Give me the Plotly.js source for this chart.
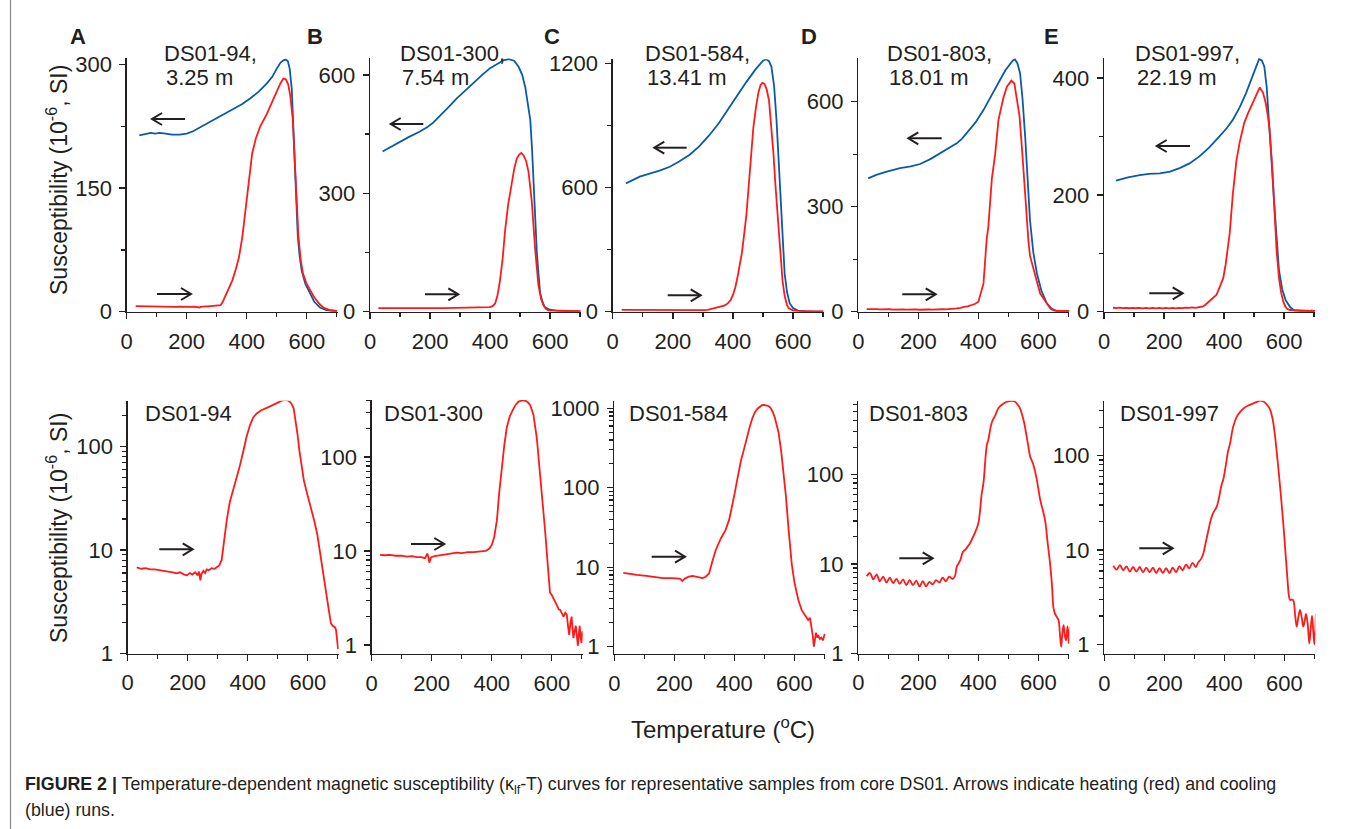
<!DOCTYPE html>
<html><head><meta charset="utf-8">
<script src="https://cdn.plot.ly/plotly-3.0.1.min.js"></script>
<style>html,body{margin:0;padding:0;background:#fff;} #chart{width:1355px;height:829px;}</style>
</head><body><div id="chart"></div>
<script>
// ---------------- DATA ----------------
const sampleNames = ['DS01-94', 'DS01-300', 'DS01-584', 'DS01-803', 'DS01-997'];
const sampleDepths = ['3.25 m', '7.54 m', '13.41 m', '18.01 m', '22.19 m'];
const panelLetters = ['A', 'B', 'C', 'D', 'E'];
const xTickLabels = ['0', '200', '400', '600'];

// DS01-94
const heatT_94 = [30,45,60,75,90,105,120,135,150,163,175,188,197,207,215,225,233,238,242,246,252,258,263,270,280,290,297,305,313,320,330,340,352,364,374,385,396,407,418,430,445,467,485,500,512,522,530,538,545,553,560,566,572,580,587,598,610,622,632,643,655,667,677,683,690,694,698,701];
const heatK_94 = [6.8,6.6,6.7,6.5,6.5,6.4,6.3,6.3,6.1,5.95,6.1,5.8,5.7,6.0,5.8,6.1,5.7,6.2,5.1,5.9,6.3,6.0,6.5,6.4,6.7,6.6,6.9,7.1,8.0,12,19.5,29,38,52,66,90,125,160,192,210,225,240,255,268,277,283,282,276,262,235,180,130,92,62,47,35,26,19,14,9,5.1,3.0,1.95,1.85,1.8,1.7,1.3,1.1];
const coolT_94 = [42,55,66,80,95,110,130,150,177,200,221,250,288,320,355,385,411,440,467,485,500,512,522,530,537,543,550,556,561,566,570,576,583,595,611,625,644,665,688,700];
const coolK_94 = [214,215,216,217,216,217,216,215,215,216,219,225,232,239,246.5,252,258.7,267,277,285,295,302,305,306,304,295,270,215,165,115,92,68,50,34,22,12,5,1.8,0.6,0.4];

// DS01-300
const heatT_300 = [28,45,60,80,100,117,135,150,165,178,185,189,192,198,210,228,245,260,283,300,320,340,361,380,392,400,408,417,425,433,442,450,460,472,480,489,497,504,512,520,528,539,550,561,570,578,586,594,600,607,613,618,623,628,634,639,645,650,654,658,662,666,669,672,676,680,684,687,690,693,696,699,702];
const heatK_300 = [9.1,9.0,9.1,8.9,8.9,8.7,8.8,8.6,8.6,8.4,9.4,8.6,7.5,8.6,8.8,9.0,9.1,9.3,9.6,9.5,9.7,9.7,9.8,10.0,10.6,11.6,14,21,42,78,135,205,270,325,360,388,398,402,396,382,355,280,160,68,32,16,7.5,3.6,3.4,3.0,2.8,2.6,2.4,2.36,2.1,2.0,2.2,2.1,1.6,1.28,1.7,2.0,1.5,1.18,1.4,1.6,1.2,0.98,1.3,1.6,1.2,1.05,1.4];
const coolT_300 = [42,70,99,130,165,190,209,235,264,290,319,345,374,400,429,445,462,480,495,507,517,526,534,540,545,551,556,562,567,575,583,600,625,660,700];
const coolK_300 = [406,418,431,443,456,467,478,497,520,541,562,580,600,617,631,637,640,636,621,600,570,530,486,410,317,230,148,90,47,24,11,5,2,1.2,1];

// DS01-584
const heatT_584 = [30,50,75,107,130,162,190,217,222,227,235,248,261,275,285,294,305,316,327,338,355,371,383,393,401,408,415,422,430,437,445,452,460,468,477,485,492,498,505,512,520,528,535,541,547,556,565,572,580,586,591,600,613,624,635,646,652,657,661,665,669,672,676,679,685,690,695,701];
const heatK_584 = [8.5,8.2,8.0,7.8,7.6,7.3,7.3,7.2,7.0,6.7,7.2,7.6,7.8,7.6,7.5,7.3,7.6,8.4,12,16.5,23,29.5,40,58,85,118,165,220,285,370,470,600,750,890,990,1060,1095,1105,1100,1075,1020,900,760,620,500,290,150,77,32,16,11.2,6.5,3.9,2.9,2.5,2.17,2.3,1.8,1.4,1.0,1.2,1.5,1.3,1.4,1.25,1.3,1.2,1.45];
const coolT_584 = [44,65,90,120,156,190,221,255,287,320,353,385,419,445,474,490,500,510,520,528,537,545,551,556,564,572,580,589,600,616,640,670,700];
const coolK_584 = [620,636,652,666,681,700,725,757,797,850,910,980,1055,1110,1168,1195,1212,1220,1210,1184,1090,926,760,604,390,185,95,40,18,5,2,1,0.5];

// DS01-803
const heatT_803 = [28,39,50,61,72,83,94,105,116,127,138,149,160,171,182,193,204,215,226,237,248,259,270,281,292,303,314,322,328,340,348,356,364,372,388,400,411,417,428,433,445,456,467,483,495,510,520,528,537,545,553,561,567,572,583,595,606,622,631,639,645,650,655,660,667,672,676,680,684,688,692,697,700,702,705];
const heatK_803 = [7.3,7.9,6.7,7.6,6.4,7.2,6.2,7.0,6.1,6.8,6.0,6.7,5.8,6.6,5.8,6.5,5.6,6.4,5.6,6.3,5.9,6.6,6.2,7.0,6.4,7.2,6.8,7.3,9.3,11,13.5,14.3,15.5,17,22,28.4,60,80,210,240,380,450,548,610,643,660,652,614,560,470,370,262,200,160,128,86,52,31,17,10,6,3.3,2.8,2.6,2.36,1.6,1.19,1.7,2.07,1.6,1.4,2.0,1.5,1.3,2.0];
const coolT_803 = [33,60,95,139,175,206,240,272,300,328,345,361,390,417,445,472,490,506,515,522,530,539,547,556,564,572,583,595,610,628,645,661,680,700];
const coolK_803 = [381,391,400,410,415,422,436,452,466,481,494,510,540,576,618,662,690,710,718,721,710,681,610,500,380,262,170,110,60,24,8,2,1,0.5];

// DS01-997
const heatT_997 = [30,41,52,63,74,85,96,107,118,129,140,151,162,173,184,195,206,217,228,239,250,261,272,283,294,305,313,322,330,338,347,355,362,375,390,397,405,412,419,429,441,452,467,480,495,508,519,530,539,546,552,561,568,575,583,590,597,604,610,615,619,625,630,636,641,646,652,658,663,668,672,678,683,688,692,696,700,705];
const heatK_997 = [6.8,6.2,6.9,6.1,6.7,5.9,6.6,5.9,6.6,5.8,6.5,5.8,6.5,5.7,6.4,5.7,6.4,5.7,6.5,5.8,6.7,6.1,7.0,6.4,7.3,6.6,7.4,8.0,9.2,12,16.3,21,24.5,29,48,57,80,110,135,200,258,290,323,340,357,372,384,375,357,335,310,243,170,105,58,33,18,9,5,3.3,2.95,3.0,2.9,2.0,1.54,1.9,2.31,1.9,1.54,1.8,2.1,1.6,1.02,1.5,2.0,1.4,1.0,2.1];
const coolT_997 = [40,80,119,150,186,220,252,285,318,350,384,410,429,452,473,490,506,517,526,534,542,550,558,567,575,583,594,605,620,634,660,700];
const coolK_997 = [224.5,230,234,236,237,240,246,254,266,281,300,315,328.5,350,374,396,420,433,430,420,385,328,260,186,125,71,38,20,8,2,0.8,0.5];

const heatT = [heatT_94, heatT_300, heatT_584, heatT_803, heatT_997];
const heatK = [heatK_94, heatK_300, heatK_584, heatK_803, heatK_997];
const coolT = [coolT_94, coolT_300, coolT_584, coolT_803, coolT_997];
const coolK = [coolK_94, coolK_300, coolK_584, coolK_803, coolK_997];

// ---------------- LAYOUT (pixel geometry) ----------------
const W = 1355, H = 829;
const FONT = '"Liberation Sans", Arial, Helvetica, sans-serif';
const INK = '#231f20';
const RED = '#ff1a1a', BLUE = '#0b5aa6';
const px = x => x / W;
const py = y => 1 - y / H;

// top row boxes [x0, x1, yTop, yBottom], linear y ranges and tick steps
const topBoxes = [[126.7,337.7,58.3,311.7],[370,581,58.3,311.7],[612.7,824,59.3,311.7],[858.3,1069.3,58.3,311.7],[1104,1315,58.3,311.7]];
const topYMax = [307.5, 642, 1219, 724, 434];
const topYStep = [150, 300, 600, 300, 200];
// bottom row boxes and log10 ranges
const botBoxes = [[127.7,338.7,400.7,653.5],[371.7,582.7,400,654],[614.3,825.3,400.7,654],[858.3,1069.3,400.7,653.5],[1104.3,1315.3,400.7,654]];
const botLogRange = [[0,2.445],[-0.096,2.606],[-0.092,3.096],[0,2.82],[-0.103,2.583]];

const traces = [];
const layout = {
  width: W, height: H, margin: {l:0, r:0, t:0, b:0},
  paper_bgcolor: '#fff', plot_bgcolor: 'rgba(0,0,0,0)',
  showlegend: false, font: {family: FONT, color: INK},
  annotations: [], shapes: []
};

function axisBase() {
  return {showgrid:false, zeroline:false, showline:true, linecolor:INK, linewidth:1.4,
    ticks:'outside', ticklen:6, tickwidth:1.4, tickcolor:INK,
    tickfont:{family:FONT, size:22, color:INK}, fixedrange:true};
}
function xAxis(box, anchor) {
  return Object.assign(axisBase(), {domain:[px(box[0]), px(box[1])], range:[0,703],
    tickmode:'linear', tick0:0, dtick:200, anchor:anchor, ticklabelstandoff:3,
    minor:{dtick:100, ticks:'outside', ticklen:4, tickwidth:1.4, tickcolor:INK}});
}

const minorLog = [];
[1,10,100].forEach(d => { for (let m = 2; m <= 9; m++) minorLog.push(m*d); });

for (let i = 0; i < 5; i++) {
  // top linear panel
  const n = i + 1, ax = n === 1 ? '' : String(n);
  const tb = topBoxes[i];
  layout['xaxis' + ax] = xAxis(tb, 'y' + ax);
  layout['yaxis' + ax] = Object.assign(axisBase(), {domain:[py(tb[3]), py(tb[2])], range:[0, topYMax[i]],
    tickmode:'linear', tick0:0, dtick:topYStep[i], anchor:'x' + ax, ticklabelstandoff:3,
    minor:{dtick:topYStep[i]/2, ticks:'outside', ticklen:4, tickwidth:1.4, tickcolor:INK}});
  traces.push({x:coolT[i], y:coolK[i], xaxis:'x'+ax, yaxis:'y'+ax, mode:'lines', line:{color:BLUE, width:1.8}, cliponaxis:false, hoverinfo:'skip'});
  traces.push({x:heatT[i], y:heatK[i], xaxis:'x'+ax, yaxis:'y'+ax, mode:'lines', line:{color:RED, width:1.8}, cliponaxis:false, hoverinfo:'skip'});

  // bottom log panel
  const m = i + 6, bx = String(m);
  const bb = botBoxes[i];
  layout['xaxis' + bx] = xAxis(bb, 'y' + bx);
  layout['yaxis' + bx] = Object.assign(axisBase(), {type:'log', domain:[py(bb[3]), py(bb[2])], range:botLogRange[i],
    tickmode:'array', tickvals:[1,10,100,1000], ticktext:['1','10','100','1000'], anchor:'x' + bx, ticklabelstandoff:3,
    minor:{tickmode:'array', tickvals:minorLog, ticks:'outside', ticklen:4, tickwidth:1.2, tickcolor:INK}});
  const lineStyle = i >= 3 ? {color:RED, width:1.8, shape:'spline', smoothing:1} : {color:RED, width:1.8};
  traces.push({x:heatT[i], y:heatK[i], xaxis:'x'+bx, yaxis:'y'+bx, mode:'lines', line:lineStyle, cliponaxis:false, hoverinfo:'skip'});
}

// ---------------- TEXT ----------------
const A = layout.annotations;
function txt(x, y, text, opts) {
  A.push(Object.assign({x:px(x), y:py(y), xref:'paper', yref:'paper', text:text, showarrow:false,
    xanchor:'left', yanchor:'middle', font:{family:FONT, size:22, color:INK}}, opts || {}));
}
// arrows drawn as shapes: shaft + open chevron head
function arrow(x0, y0, x1, y1) {
  const d = Math.sign(x1 - x0);
  layout.shapes.push({type:'line', xref:'paper', yref:'paper', x0:px(x0), y0:py(y0), x1:px(x1 - d*1), y1:py(y1), line:{color:INK, width:2}});
  const p = 'M' + px(x1 - d*10) + ',' + py(y1 - 6) + ' L' + px(x1) + ',' + py(y1) + ' L' + px(x1 - d*10) + ',' + py(y1 + 6);
  layout.shapes.push({type:'path', xref:'paper', yref:'paper', path:p, line:{color:INK, width:2}});
}

const letterX = [77.5, 315, 551.5, 808.5, 1051.5];
const topLabelX = [162, 398, 643, 885, 1133];
const botLabelX = [143, 382, 627, 867, 1118];
for (let i = 0; i < 5; i++) {
  txt(letterX[i], 36, '<b>' + panelLetters[i] + '</b>', {xanchor:'center', font:{family:FONT, size:22, color:INK}});
  txt(topLabelX[i], 53, sampleNames[i] + ',');
  txt(topLabelX[i] + 2, 78, sampleDepths[i]);
  txt(botLabelX[i], 413, sampleNames[i]);
}

// arrows: [tailX, tailY, headX, headY]
const arrowsPx = [
  [185,119,152,119],[157,294,191,294],
  [423.3,124,390.7,124],[425,294.3,458.3,294.3],
  [686.7,147.7,654.3,147.7],[667.7,295.3,700.7,295.3],
  [941.7,138.3,908.3,138.3],[902.3,294.3,935.7,294.3],
  [1190,146,1156.7,146],[1149.3,293.3,1182.7,293.3],
  [159.3,549.3,192.7,549.3],[411,544,444.3,544],[651.7,556.7,685,556.7],[899.3,558.3,932.7,558.3],[1139.3,548.3,1172.7,548.3]
];
arrowsPx.forEach(a => arrow(a[0], a[1], a[2], a[3]));

const yTitle = 'Susceptibility (10<sup>-6</sup>, SI)';
txt(57, 180, yTitle, {xanchor:'center', textangle:-90, font:{family:FONT, size:23, color:INK}});
txt(57, 528, yTitle, {xanchor:'center', textangle:-90, font:{family:FONT, size:23, color:INK}});
txt(723, 728, 'Temperature (<sup>o</sup>C)', {xanchor:'center', font:{family:FONT, size:24, color:INK}});

txt(23, 785, '<b>FIGURE 2 |</b> Temperature-dependent magnetic susceptibility (κ<sub>lf</sub>-T) curves for representative samples from core DS01. Arrows indicate heating (red) and cooling', {font:{family:FONT, size:17.8, color:INK}});
txt(23, 810, '(blue) runs.', {font:{family:FONT, size:17.8, color:INK}});

layout.shapes.push({type:'line', xref:'paper', yref:'paper', x0:px(10.5), x1:px(10.5), y0:0, y1:1, line:{color:'#8a8a8a', width:1.2}});

Plotly.newPlot('chart', traces, layout, {staticPlot:true, displayModeBar:false});
</script>
</body></html>
